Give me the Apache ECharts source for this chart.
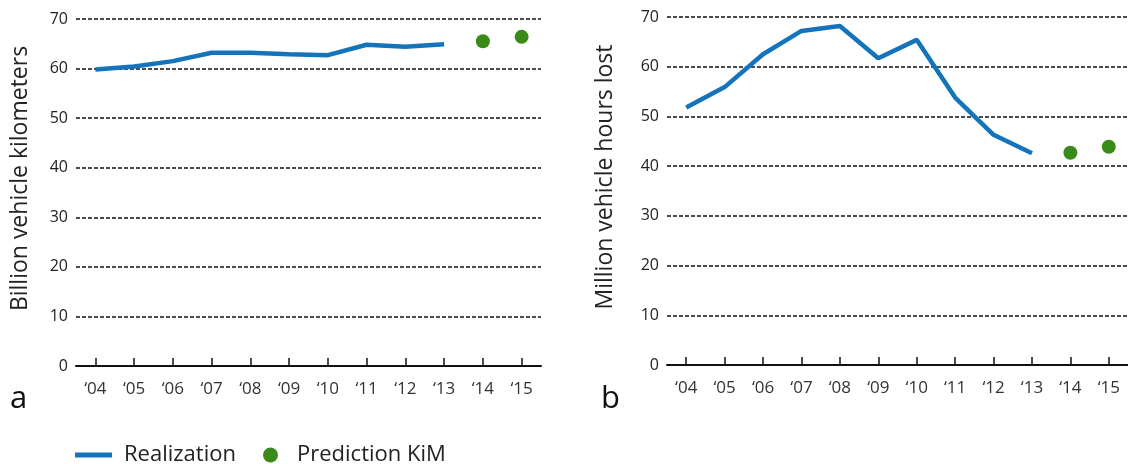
<!DOCTYPE html>
<html>
<head>
<meta charset="utf-8">
<script src="https://cdn.jsdelivr.net/npm/echarts@6/dist/echarts.min.js"></script>
<style>
html,body{margin:0;padding:0;background:#fff;}
#c{width:1128px;height:464px;}
</style>
</head>
<body>
<div id="c"></div>
<script>
// Data
const years = ['\u201804','\u201805','\u201806','\u201807','\u201808','\u201809','\u201810','\u201811','\u201812','\u201813','\u201814','\u201815'];
const realYears = ['\u201804','\u201805','\u201806','\u201807','\u201808','\u201809','\u201810','\u201811','\u201812','\u201813'];
const predYears = ['\u201814','\u201815'];
const kmReal = [59.8, 60.4, 61.5, 63.2, 63.2, 62.9, 62.7, 64.8, 64.4, 64.9];
const kmPred = [65.5, 66.4];
const hoursReal = [51.8, 55.9, 62.5, 67.2, 68.2, 61.7, 65.4, 53.8, 46.3, 42.6];
const hoursPred = [42.7, 43.9];
const yTicks = {min: 0, max: 70, interval: 10};
const titles = ['Billion vehicle kilometers', 'Million vehicle hours lost'];
const panelLabels = ['a', 'b'];

const FONT = 'Open Sans';
const BLUE = '#1474bb';
const GREEN = '#3a8a1a';

function xAxis(gi) {
  return {
    type: 'category', gridIndex: gi, data: years, boundaryGap: true,
    axisLine: {show: true, lineStyle: {color: '#111', width: 2}},
    axisTick: {show: true, alignWithLabel: true, inside: true, length: 8, lineStyle: {color: '#111', width: 1.5}},
    axisLabel: {margin: 15, fontSize: 17, color: '#333', fontFamily: FONT},
    splitLine: {show: false}
  };
}
function yAxis(gi, name, gap) {
  return {
    type: 'value', gridIndex: gi, min: yTicks.min, max: yTicks.max, interval: yTicks.interval,
    axisLine: {show: false}, axisTick: {show: false},
    axisLabel: {fontSize: 16, color: '#222', margin: 8, fontFamily: FONT},
    splitLine: {lineStyle: {type: [4, 2], color: '#111', width: 1.5}},
    name: name, nameLocation: 'middle', nameGap: gap,
    nameTextStyle: {fontSize: 23, color: '#222', fontFamily: FONT, padding: [0, 0, 0, 28]}
  };
}
function pairs(cats, vals) { return cats.map((c, i) => [c, vals[i]]); }

const chart = echarts.init(document.getElementById('c'), null, {renderer: 'canvas'});
chart.setOption({
  animation: false,
  textStyle: {fontFamily: FONT},
  grid: [
    {left: 76, top: 19, width: 465, height: 347},
    {left: 667, top: 17, width: 465, height: 348}
  ],
  xAxis: [xAxis(0), xAxis(1)],
  yAxis: [yAxis(0, titles[0], 44), yAxis(1, titles[1], 50)],
  legend: [
    {data: ['Realization'], left: 75, top: 444, padding: 0, icon: 'rect', itemWidth: 37, itemHeight: 5,
     textStyle: {fontSize: 22, color: '#222', fontFamily: FONT, padding: [0, 0, 0, 7]}},
    {data: ['Prediction KiM'], left: 263, top: 444, padding: 0, icon: 'circle', itemWidth: 15, itemHeight: 15,
     itemStyle: {opacity: 1},
     textStyle: {fontSize: 22, color: '#222', fontFamily: FONT, padding: [0, 0, 0, 14]}}
  ],
  graphic: [
    {type: 'text', left: 10, top: 384, style: {text: panelLabels[0], font: '31px "Open Sans"', fill: '#111'}},
    {type: 'text', left: 601, top: 384, style: {text: panelLabels[1], font: '31px "Open Sans"', fill: '#111'}}
  ],
  series: [
    {name: 'Realization', type: 'line', xAxisIndex: 0, yAxisIndex: 0, data: pairs(realYears, kmReal),
     showSymbol: false, lineStyle: {color: BLUE, width: 4.5}, itemStyle: {color: BLUE}},
    {name: 'Prediction KiM', type: 'scatter', xAxisIndex: 0, yAxisIndex: 0, data: pairs(predYears, kmPred),
     symbolSize: 14, itemStyle: {color: GREEN, opacity: 1}},
    {name: 'Realization', type: 'line', xAxisIndex: 1, yAxisIndex: 1, data: pairs(realYears, hoursReal),
     showSymbol: false, lineStyle: {color: BLUE, width: 4.5}, itemStyle: {color: BLUE}},
    {name: 'Prediction KiM', type: 'scatter', xAxisIndex: 1, yAxisIndex: 1, data: pairs(predYears, hoursPred),
     symbolSize: 14, itemStyle: {color: GREEN, opacity: 1}}
  ]
});
</script>
</body>
</html>
